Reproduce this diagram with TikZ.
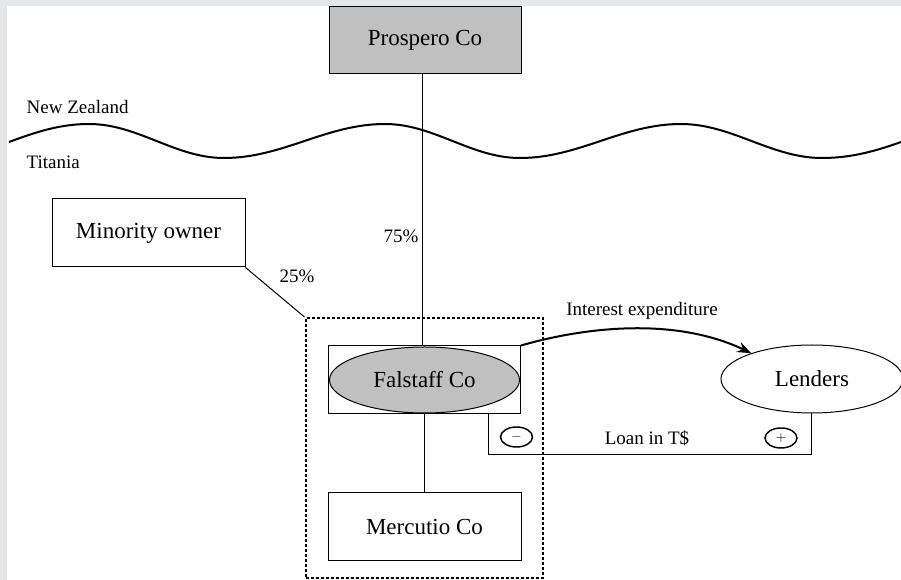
\documentclass[tikz,border=0pt]{standalone}
\usepackage{fontspec}
\setmainfont{Liberation Serif}
\usetikzlibrary{shapes.geometric,arrows.meta}
\definecolor{framegray}{HTML}{E6E7E9}
\definecolor{entitygray}{HTML}{C0C0C0}
\begin{document}
\begin{tikzpicture}[x=0.75pt,y=-0.75pt,
  bigtext/.style={font=\fontsize{17.25pt}{20pt}\selectfont},
  smalltext/.style={font=\fontsize{14.25pt}{17pt}\selectfont},
  entity/.style 2 args={draw, line width=0.75pt, inner sep=0pt,
    minimum width=#1*0.75pt, minimum height=#2*0.75pt, bigtext},
  oval/.style 2 args={ellipse, draw, line width=0.75pt, inner sep=0pt,
    minimum width=#1*0.75pt, minimum height=#2*0.75pt, bigtext},
  sign/.style={ellipse, draw, line width=1.1pt, inner sep=0pt,
    minimum width=24pt, minimum height=15pt, font=\fontsize{10pt}{12pt}\selectfont},
  link/.style={line width=0.75pt},
  groupline/.style={line width=1.5pt, dash pattern=on 2.25pt off 1.5pt},
  wave/.style={line width=1.5pt},
  flow/.style={line width=1.5pt, -{Stealth[length=10.5pt,width=8pt]}}]
% canvas and frame
\useasboundingbox (0,0) rectangle (901,580);
\fill[white] (0,0) rectangle (901,580);
\fill[framegray] (0,0) rectangle (901,6.5);
\fill[framegray] (0,0) rectangle (7,580);

% border between the two countries
\draw[wave] (9,142) .. controls (36,132) and (60,124) .. (89,124)
  .. controls (138,124) and (175,158) .. (224,158)
  .. controls (283,158) and (326,124) .. (385,124)
  .. controls (434,124) and (471,158) .. (520,158)
  .. controls (579,158) and (622,124) .. (681,124)
  .. controls (732,124) and (771,158) .. (822,158)
  .. controls (850,158) and (874,151.7) .. (901,142);
\node[smalltext, anchor=west] (nz) at (22,107) {New Zealand};
\node[smalltext, anchor=west] (ti) at (22,162) {Titania};

% entities
\node[entity={192}{67}, fill=entitygray] (pros) at (425,40.5) {Prospero Co};
\node[entity={193}{68}] (minor) at (148.5,233) {Minority owner};
\node[draw, groupline, inner sep=0pt, minimum width=177.75pt, minimum height=195pt]
  (group) at (424,448) {};
\node[entity={192}{68}] (falrect) at (424.5,380) {};
\node[oval={190}{66}, fill=entitygray] (fal) at (424.5,380) {Falstaff Co};
\node[entity={193}{68}] (merc) at (424.5,527) {Mercutio Co};
\node[oval={182}{68}] (lend) at (812,379) {Lenders};

% ownership links
\draw[link] ([xshift=-3*0.75pt]pros.south) -- ([xshift=-3*0.75pt]pros.south |- falrect.north);
\draw[link] (falrect.south) -- (merc.north);
\draw[link] (minor.south east) -- (group.north west);
\node[smalltext] (p75) at (401,236) {75\%};
\node[smalltext] (p25) at (297,276) {25\%};

% interest flow
\draw[flow] (falrect.north east) .. controls (591,325.4) and (678,318.3) .. (lend.157);
\node[smalltext] (intx) at (642,311) {Interest expenditure};

% loan
\coordinate (loanL) at (488,455);
\coordinate (loanR) at (811,455);
\draw[link] (loanL |- falrect.south) -- (loanL) -- (loanR) -- (loanR |- lend.south);
\node[smalltext] (loan) at (647,438) {Loan in T\$};
\node[sign] (minus) at (516.5,437) {$-$};
\node[sign] (plus) at (781,438) {$+$};
\end{tikzpicture}
\end{document}
